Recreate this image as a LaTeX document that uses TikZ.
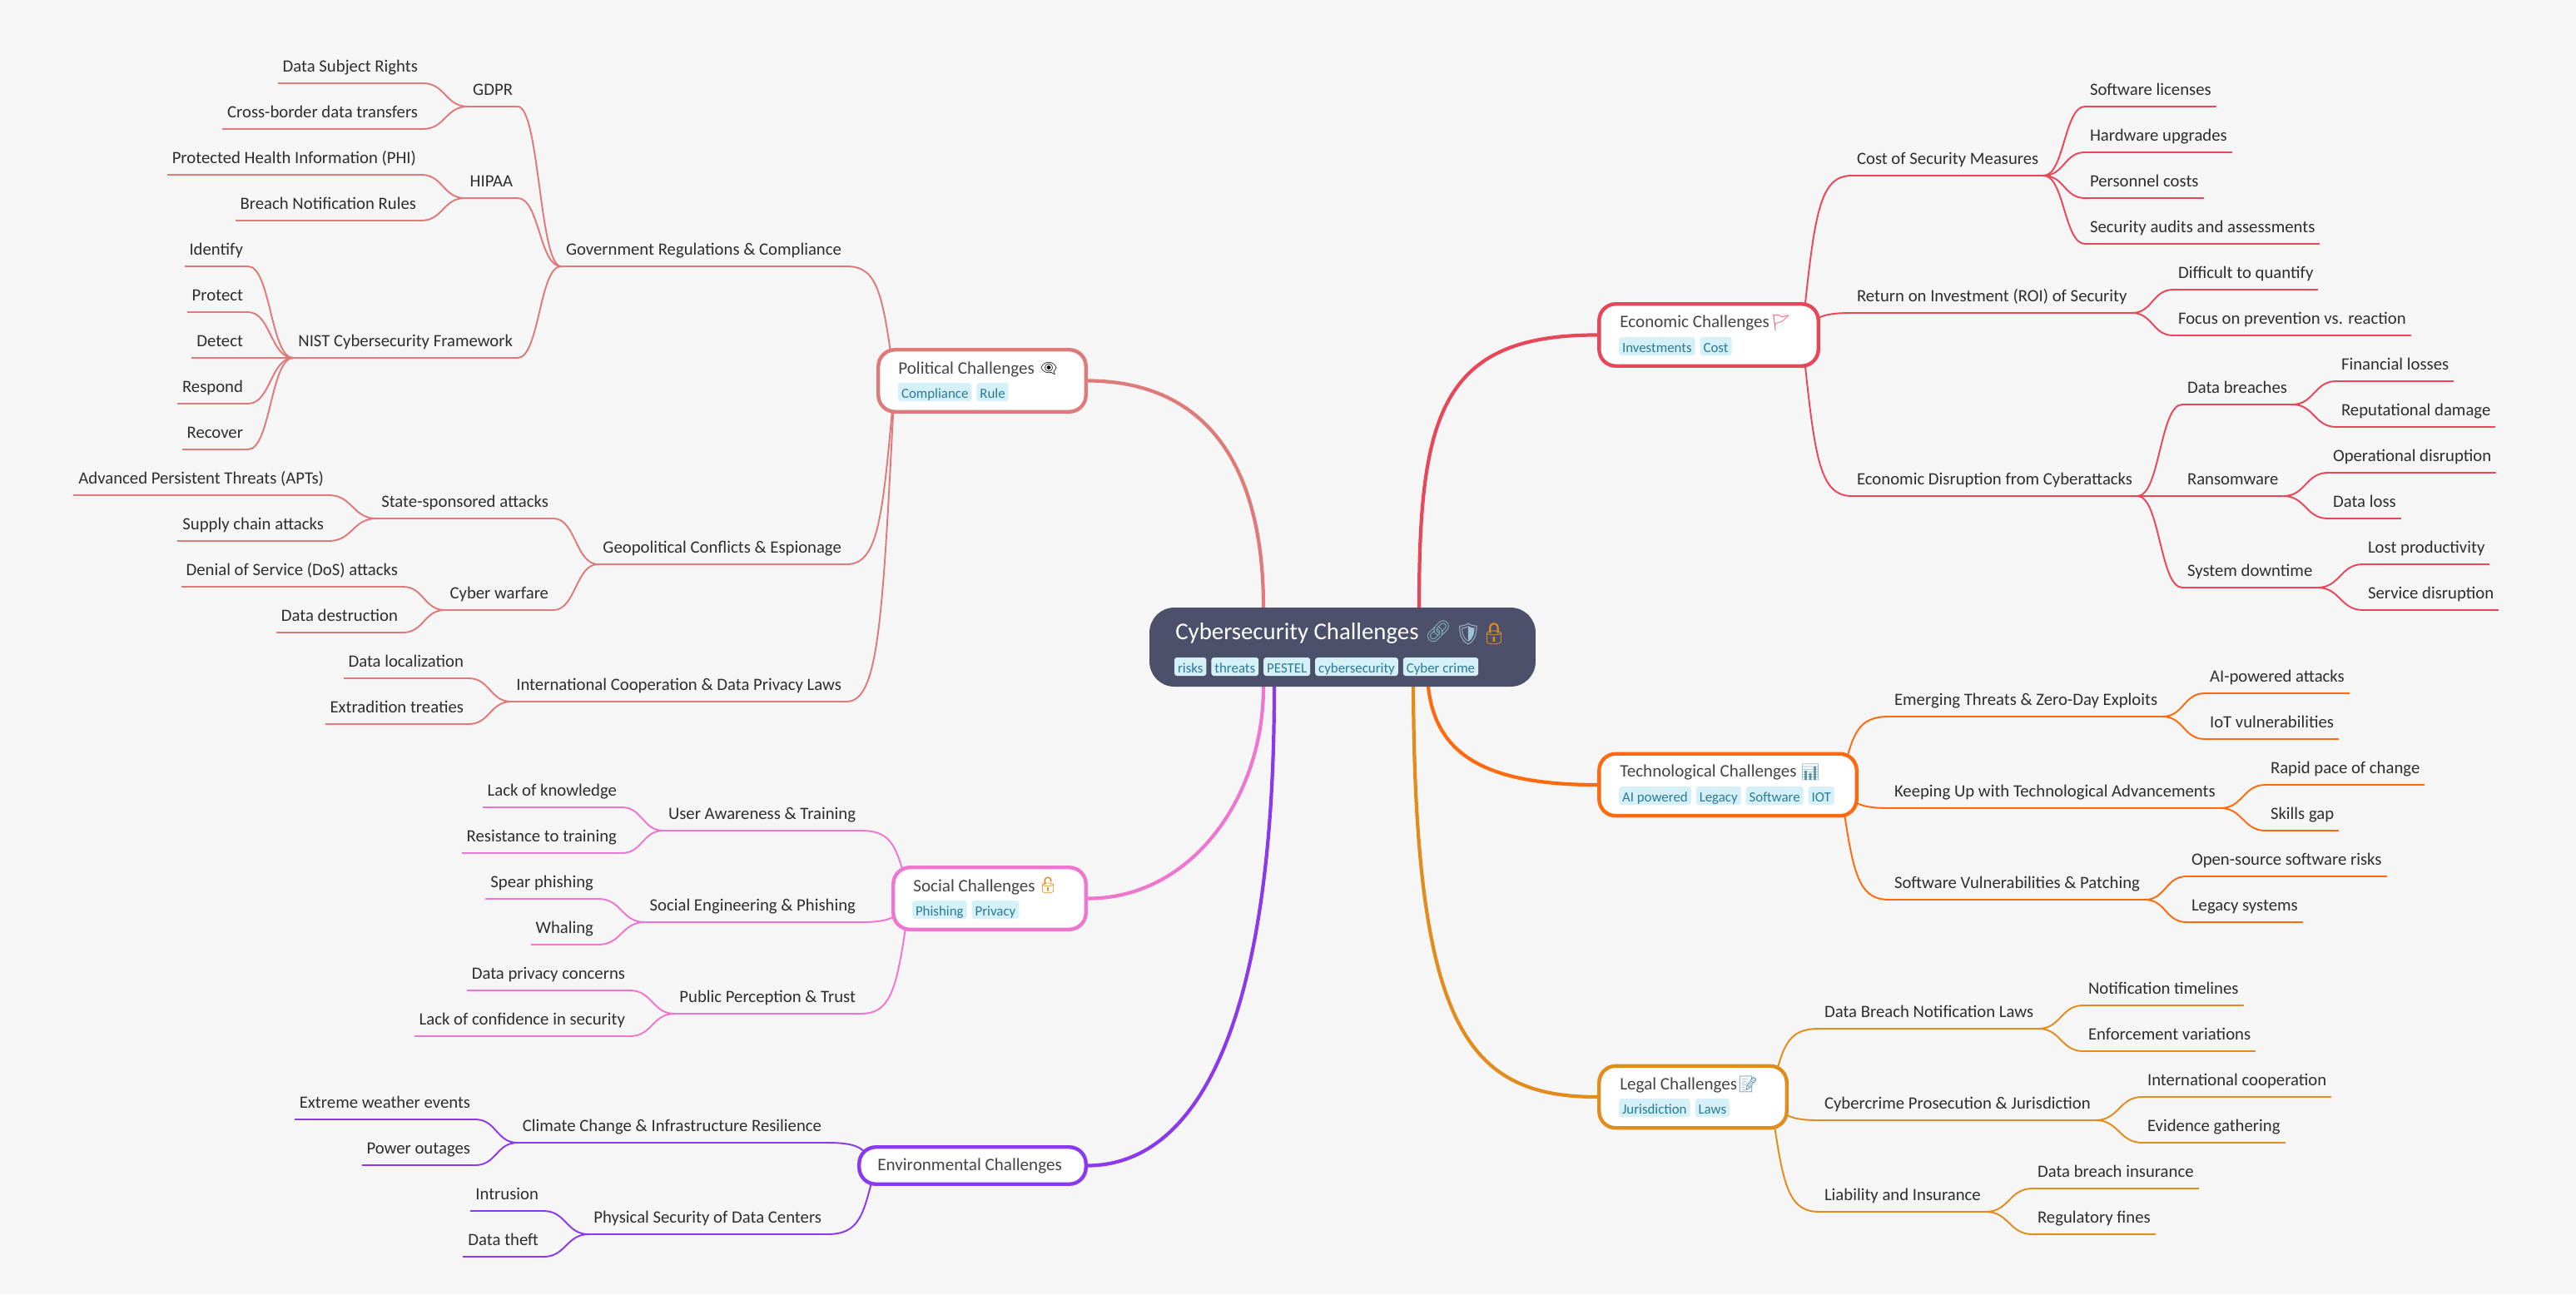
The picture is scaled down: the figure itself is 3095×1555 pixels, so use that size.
\documentclass[tikz,border=0pt]{standalone}
\usepackage{fontspec}
\setmainfont{Carlito}
\newfontfamily\emojifont{Noto Emoji}
\usetikzlibrary{positioning,calc,backgrounds}
\definecolor{paper}{HTML}{F6F6F6}
\definecolor{ink}{HTML}{2E2E2E}
\definecolor{headink}{HTML}{454545}
\definecolor{tagfill}{HTML}{D5F0F7}
\definecolor{tagink}{HTML}{2B7A96}
\definecolor{corefill}{HTML}{4D506B}
\definecolor{econcol}{HTML}{E8475A}
\definecolor{politcol}{HTML}{DF7A7B}
\definecolor{techcol}{HTML}{FF6A0E}
\definecolor{lawcol}{HTML}{E38C1E}
\definecolor{soccol}{HTML}{EF76CE}
\definecolor{envcol}{HTML}{8A39EC}
\tikzset{
    topic/.style={inner xsep=.12cm, inner ysep=0pt, outer sep=0pt, text depth=.28cm, text height=.4cm, text=ink,
        font=\fontsize{11.8}{14}\selectfont,
        append after command={(\tikzlastnode.south west) edge[draw=branch, line width=1.1pt] (\tikzlastnode.south east)}},
    lt/.style={topic, anchor=south east},
    rt/.style={topic, anchor=south west},
    mainbox/.style={draw=branch, fill=white, line width=2.5pt, rounded corners=.4cm},
    headtext/.style={anchor=base west, inner sep=0pt, text=headink, font=\fontsize{12}{14}\selectfont},
    tag/.style={fill=tagfill, text=tagink, rounded corners=.06cm, inner xsep=.08cm, inner ysep=0pt, outer sep=0pt,
        text height=.36cm, text depth=.08cm, font=\fontsize{9.6}{12}\selectfont},
    emo/.style={inner sep=0pt, font=\emojifont\fontsize{11}{12}\selectfont},
    link/.style={draw=branch, line width=1.1pt},
    trunk/.style={draw=branch, line width=2.4pt},
    scurve/.style={to path={let \p1=(\tikztostart),\p2=(\tikztotarget) in
        .. controls ({.5*\x1+.5*\x2},\y1) and ({.5*\x1+.5*\x2},\y2) .. (\p2)}},
    fan/.style={to path={let \p1=(\tikztostart),\p2=(\tikztotarget) in
        .. controls ({.75*\x1+.25*\x2},{.25*\y1+.75*\y2}) and ({.67*\x1+.33*\x2},\y2) .. (\p2)}}
}
\begin{document}
\begin{tikzpicture}[x=.02cm, y=-.02cm]
    \useasboundingbox (0,0) rectangle (3095,1555);
    \begin{scope}[on background layer]
        \fill[paper] (0,0) rectangle (3095,1555);
    \end{scope}

    % centre
    \node[fill=corefill, rounded corners=.6cm, minimum width=9.28cm, minimum height=1.9cm, inner sep=0pt, outer sep=0pt] (core) at (1613,777.5) {};
    \node[anchor=base west, inner sep=0pt, text=white, font=\fontsize{16.4}{18}\selectfont] (coretitle) at (1412,768) {Cybersecurity Challenges};
    \node[emo, text=tagink!55, font=\emojifont\fontsize{14.5}{16}\selectfont] (chain) at (1728,759) {🔗};
    \node[emo, text=tagink!45, font=\emojifont\fontsize{14.5}{16}\selectfont] (shield) at (1764,762) {🛡};
    \node[emo, text=lawcol, font=\emojifont\fontsize{14.5}{16}\selectfont] (padlock) at (1795,762) {🔒};
    \node[tag, anchor=south west] (risks) at (1411,812) {risks};
    \node[tag, right=.12cm of risks] (threats) {threats};
    \node[tag, right=.12cm of threats] (pestel) {PESTEL};
    \node[tag, right=.12cm of pestel] (cyber) {cybersecurity};
    \node[tag, right=.12cm of cyber] (crime) {Cyber crime};
    \coordinate (coreE) at (1705,730);
    \coordinate (coreP) at (1518,730);
    \coordinate (coreT) at (1716,825);
    \coordinate (coreL) at (1698,825);
    \coordinate (coreS) at (1518,825);
    \coordinate (coreV) at (1531,825);

    % economic
    \begin{scope}
        \colorlet{branch}{econcol}
        \node[mainbox, minimum width=5.27cm, minimum height=1.49cm] (econ) at (2053,402.5) {};
        \node[headtext] (econtitle) at (1946,393) {Economic Challenges};
        \node[emo, text=econcol] (flag) at (2140,388) {🚩};
        \node[tag, anchor=south west] (invest) at (1945,427) {Investments};
        \node[tag, right=.12cm of invest] (costtag) {Cost};
        \coordinate (econO) at (2165,402);
        \node[rt] (cost) at (2225,211) {Cost of Security Measures};
        \node[rt] (licen) at (2505,128) {Software licenses};
        \node[rt] (hard) at (2505,183) {Hardware upgrades};
        \node[rt] (staff) at (2505,238) {Personnel costs};
        \node[rt] (audit) at (2505,293) {Security audits and assessments};
        \node[rt] (roi) at (2225,376) {Return on Investment (ROI) of Security};
        \node[rt] (quant) at (2611,348) {Difficult to quantify};
        \node[rt] (focus) at (2611,403) {Focus on prevention vs. reaction};
        \node[rt] (disrupt) at (2225,596) {Economic Disruption from Cyberattacks};
        \node[rt] (breach) at (2622,486) {Data breaches};
        \node[rt] (finan) at (2807,458) {Financial losses};
        \node[rt] (repu) at (2807,513) {Reputational damage};
        \node[rt] (ransom) at (2622,596) {Ransomware};
        \node[rt] (oper) at (2797,568) {Operational disruption};
        \node[rt] (loss) at (2797,623) {Data loss};
        \node[rt] (down) at (2622,706) {System downtime};
        \node[rt] (prod) at (2839,678) {Lost productivity};
        \node[rt] (serv) at (2839,733) {Service disruption};
        \begin{scope}[on background layer]
            \draw[trunk] (coreE) .. controls (1705,500) and (1730,402) .. (econ.west);
            \draw[link] (econO) edge[fan] (cost.south west) edge[fan] (roi.south west) edge[fan] (disrupt.south west);
            \draw[link] (cost.south east) edge[scurve] (licen.south west) edge[scurve] (hard.south west) edge[scurve] (staff.south west) edge[scurve] (audit.south west);
            \draw[link] (roi.south east) edge[scurve] (quant.south west) edge[scurve] (focus.south west);
            \draw[link] (disrupt.south east) edge[scurve] (breach.south west) edge[scurve] (ransom.south west) edge[scurve] (down.south west);
            \draw[link] (breach.south east) edge[scurve] (finan.south west) edge[scurve] (repu.south west);
            \draw[link] (ransom.south east) edge[scurve] (oper.south west) edge[scurve] (loss.south west);
            \draw[link] (down.south east) edge[scurve] (prod.south west) edge[scurve] (serv.south west);
        \end{scope}
    \end{scope}

    % technological
    \begin{scope}
        \colorlet{branch}{techcol}
        \node[mainbox, minimum width=6.19cm, minimum height=1.49cm] (tech) at (2076,943) {};
        \node[headtext] (techtitle) at (1946,933) {Technological Challenges};
        \node[emo, text=tagink!80] (chart) at (2175,928) {📊};
        \node[tag, anchor=south west] (aitag) at (1945,967) {AI powered};
        \node[tag, right=.12cm of aitag] (legacytag) {Legacy};
        \node[tag, right=.12cm of legacytag] (softtag) {Software};
        \node[tag, right=.12cm of softtag] (iottag) {IOT};
        \coordinate (techO) at (2211,943);
        \node[rt] (emerge) at (2270,861) {Emerging Threats \& Zero-Day Exploits};
        \node[rt] (aiatt) at (2649,833) {AI-powered attacks};
        \node[rt] (iot) at (2649,888) {IoT vulnerabilities};
        \node[rt] (keep) at (2270,971) {Keeping Up with Technological Advancements};
        \node[rt] (pace) at (2722,943) {Rapid pace of change};
        \node[rt] (skills) at (2722,998) {Skills gap};
        \node[rt] (patch) at (2270,1081) {Software Vulnerabilities \& Patching};
        \node[rt] (open) at (2627,1053) {Open-source software risks};
        \node[rt] (legacy) at (2627,1108) {Legacy systems};
        \begin{scope}[on background layer]
            \draw[trunk] (coreT) .. controls (1725,910) and (1790,943) .. (tech.west);
            \draw[link] (techO) edge[fan] (emerge.south west) edge[fan] (keep.south west) edge[fan] (patch.south west);
            \draw[link] (emerge.south east) edge[scurve] (aiatt.south west) edge[scurve] (iot.south west);
            \draw[link] (keep.south east) edge[scurve] (pace.south west) edge[scurve] (skills.south west);
            \draw[link] (patch.south east) edge[scurve] (open.south west) edge[scurve] (legacy.south west);
        \end{scope}
    \end{scope}

    % legal
    \begin{scope}
        \colorlet{branch}{lawcol}
        \node[mainbox, minimum width=4.51cm, minimum height=1.49cm] (law) at (2034,1318) {};
        \node[headtext] (lawtitle) at (1946,1309) {Legal Challenges};
        \node[emo, text=tagink!80] (memo) at (2100,1303) {📝};
        \node[tag, anchor=south west] (jurtag) at (1945,1342) {Jurisdiction};
        \node[tag, right=.12cm of jurtag] (lawstag) {Laws};
        \coordinate (lawO) at (2127,1318);
        \node[rt] (notify) at (2186,1236) {Data Breach Notification Laws};
        \node[rt] (time) at (2503,1208) {Notification timelines};
        \node[rt] (enforce) at (2503,1263) {Enforcement variations};
        \node[rt] (prosec) at (2186,1346) {Cybercrime Prosecution \& Jurisdiction};
        \node[rt] (intl) at (2574,1318) {International cooperation};
        \node[rt] (evid) at (2574,1373) {Evidence gathering};
        \node[rt] (liab) at (2186,1456) {Liability and Insurance};
        \node[rt] (insur) at (2442,1428) {Data breach insurance};
        \node[rt] (fines) at (2442,1483) {Regulatory fines};
        \begin{scope}[on background layer]
            \draw[trunk] (coreL) .. controls (1700,1230) and (1760,1318) .. (law.west);
            \draw[link] (lawO) edge[fan] (notify.south west) edge[fan] (prosec.south west) edge[fan] (liab.south west);
            \draw[link] (notify.south east) edge[scurve] (time.south west) edge[scurve] (enforce.south west);
            \draw[link] (prosec.south east) edge[scurve] (intl.south west) edge[scurve] (evid.south west);
            \draw[link] (liab.south east) edge[scurve] (insur.south west) edge[scurve] (fines.south west);
        \end{scope}
    \end{scope}

    % political
    \begin{scope}
        \colorlet{branch}{politcol}
        \node[mainbox, minimum width=4.99cm, minimum height=1.49cm] (polit) at (1180,457.5) {};
        \node[headtext] (polittitle) at (1079,449) {Political Challenges};
        \node[emo, text=black] (eye) at (1260,443) {👁‍🗨};
        \node[tag, anchor=south west] (comptag) at (1079,482) {Compliance};
        \node[tag, right=.12cm of comptag] (ruletag) {Rule};
        \coordinate (politO) at (1075,458);
        \node[lt] (gov) at (1017,320) {Government Regulations \& Compliance};
        \node[lt] (gdpr) at (622,128) {GDPR};
        \node[lt] (subject) at (508,100) {Data Subject Rights};
        \node[lt] (border) at (508,155) {Cross-border data transfers};
        \node[lt] (hipaa) at (622,238) {HIPAA};
        \node[lt] (phi) at (506,210) {Protected Health Information (PHI)};
        \node[lt] (notif) at (506,265) {Breach Notification Rules};
        \node[lt] (nist) at (622,430) {NIST Cybersecurity Framework};
        \node[lt] (identify) at (298,320) {Identify};
        \node[lt] (protect) at (298,375) {Protect};
        \node[lt] (detect) at (298,430) {Detect};
        \node[lt] (respond) at (298,485) {Respond};
        \node[lt] (recover) at (298,540) {Recover};
        \node[lt] (geo) at (1017,678) {Geopolitical Conflicts \& Espionage};
        \node[lt] (state) at (665,623) {State-sponsored attacks};
        \node[lt] (apt) at (395,595) {Advanced Persistent Threats (APTs)};
        \node[lt] (supply) at (395,650) {Supply chain attacks};
        \node[lt] (warfare) at (665,733) {Cyber warfare};
        \node[lt] (dos) at (484,705) {Denial of Service (DoS) attacks};
        \node[lt] (destroy) at (484,760) {Data destruction};
        \node[lt] (coop) at (1017,843) {International Cooperation \& Data Privacy Laws};
        \node[lt] (local) at (563,815) {Data localization};
        \node[lt] (extra) at (563,870) {Extradition treaties};
        \begin{scope}[on background layer]
            \draw[trunk] (coreP) .. controls (1518,560) and (1450,458) .. (polit.east);
            \draw[link] (politO) edge[fan] (gov.south east) edge[fan] (geo.south east) edge[fan] (coop.south east);
            \draw[link] (gov.south west) edge[scurve] (gdpr.south east) edge[scurve] (hipaa.south east) edge[scurve] (nist.south east);
            \draw[link] (gdpr.south west) edge[scurve] (subject.south east) edge[scurve] (border.south east);
            \draw[link] (hipaa.south west) edge[scurve] (phi.south east) edge[scurve] (notif.south east);
            \draw[link] (nist.south west) edge[scurve] (identify.south east) edge[scurve] (protect.south east) edge[scurve] (detect.south east) edge[scurve] (respond.south east) edge[scurve] (recover.south east);
            \draw[link] (geo.south west) edge[scurve] (state.south east) edge[scurve] (warfare.south east);
            \draw[link] (state.south west) edge[scurve] (apt.south east) edge[scurve] (supply.south east);
            \draw[link] (warfare.south west) edge[scurve] (dos.south east) edge[scurve] (destroy.south east);
            \draw[link] (coop.south west) edge[scurve] (local.south east) edge[scurve] (extra.south east);
        \end{scope}
    \end{scope}

    % social
    \begin{scope}
        \colorlet{branch}{soccol}
        \node[mainbox, minimum width=4.63cm, minimum height=1.49cm] (soc) at (1189,1079.5) {};
        \node[headtext] (soctitle) at (1097,1071) {Social Challenges};
        \node[emo, text=lawcol] (openlock) at (1259,1064) {🔓};
        \node[tag, anchor=south west] (phishtag) at (1096,1104) {Phishing};
        \node[tag, right=.12cm of phishtag] (privtag) {Privacy};
        \coordinate (socO) at (1093,1080);
        \node[lt] (user) at (1034,998) {User Awareness \& Training};
        \node[lt] (know) at (747,970) {Lack of knowledge};
        \node[lt] (resist) at (747,1025) {Resistance to training};
        \node[lt] (engin) at (1034,1108) {Social Engineering \& Phishing};
        \node[lt] (spear) at (719,1080) {Spear phishing};
        \node[lt] (whale) at (719,1135) {Whaling};
        \node[lt] (public) at (1034,1218) {Public Perception \& Trust};
        \node[lt] (privacy) at (757,1190) {Data privacy concerns};
        \node[lt] (confid) at (757,1245) {Lack of confidence in security};
        \begin{scope}[on background layer]
            \draw[trunk] (coreS) .. controls (1518,960) and (1430,1080) .. (soc.east);
            \draw[link] (socO) edge[fan] (user.south east) edge[fan] (engin.south east) edge[fan] (public.south east);
            \draw[link] (user.south west) edge[scurve] (know.south east) edge[scurve] (resist.south east);
            \draw[link] (engin.south west) edge[scurve] (spear.south east) edge[scurve] (whale.south east);
            \draw[link] (public.south west) edge[scurve] (privacy.south east) edge[scurve] (confid.south east);
        \end{scope}
    \end{scope}

    % environmental
    \begin{scope}
        \colorlet{branch}{envcol}
        \node[mainbox, minimum width=5.45cm, minimum height=.89cm] (env) at (1168.5,1400.5) {};
        \node[headtext] (envtitle) at (1054,1406) {Environmental Challenges};
        \coordinate (envO) at (1052,1400);
        \node[lt] (climate) at (993,1373) {Climate Change \& Infrastructure Resilience};
        \node[lt] (weather) at (571,1345) {Extreme weather events};
        \node[lt] (power) at (571,1400) {Power outages};
        \node[lt] (phys) at (993,1483) {Physical Security of Data Centers};
        \node[lt] (intru) at (653,1455) {Intrusion};
        \node[lt] (theft) at (653,1510) {Data theft};
        \begin{scope}[on background layer]
            \draw[trunk] (coreV) .. controls (1531,1250) and (1430,1400) .. (env.east);
            \draw[link] (envO) edge[fan] (climate.south east) edge[fan] (phys.south east);
            \draw[link] (climate.south west) edge[scurve] (weather.south east) edge[scurve] (power.south east);
            \draw[link] (phys.south west) edge[scurve] (intru.south east) edge[scurve] (theft.south east);
        \end{scope}
    \end{scope}
\end{tikzpicture}
\end{document}
